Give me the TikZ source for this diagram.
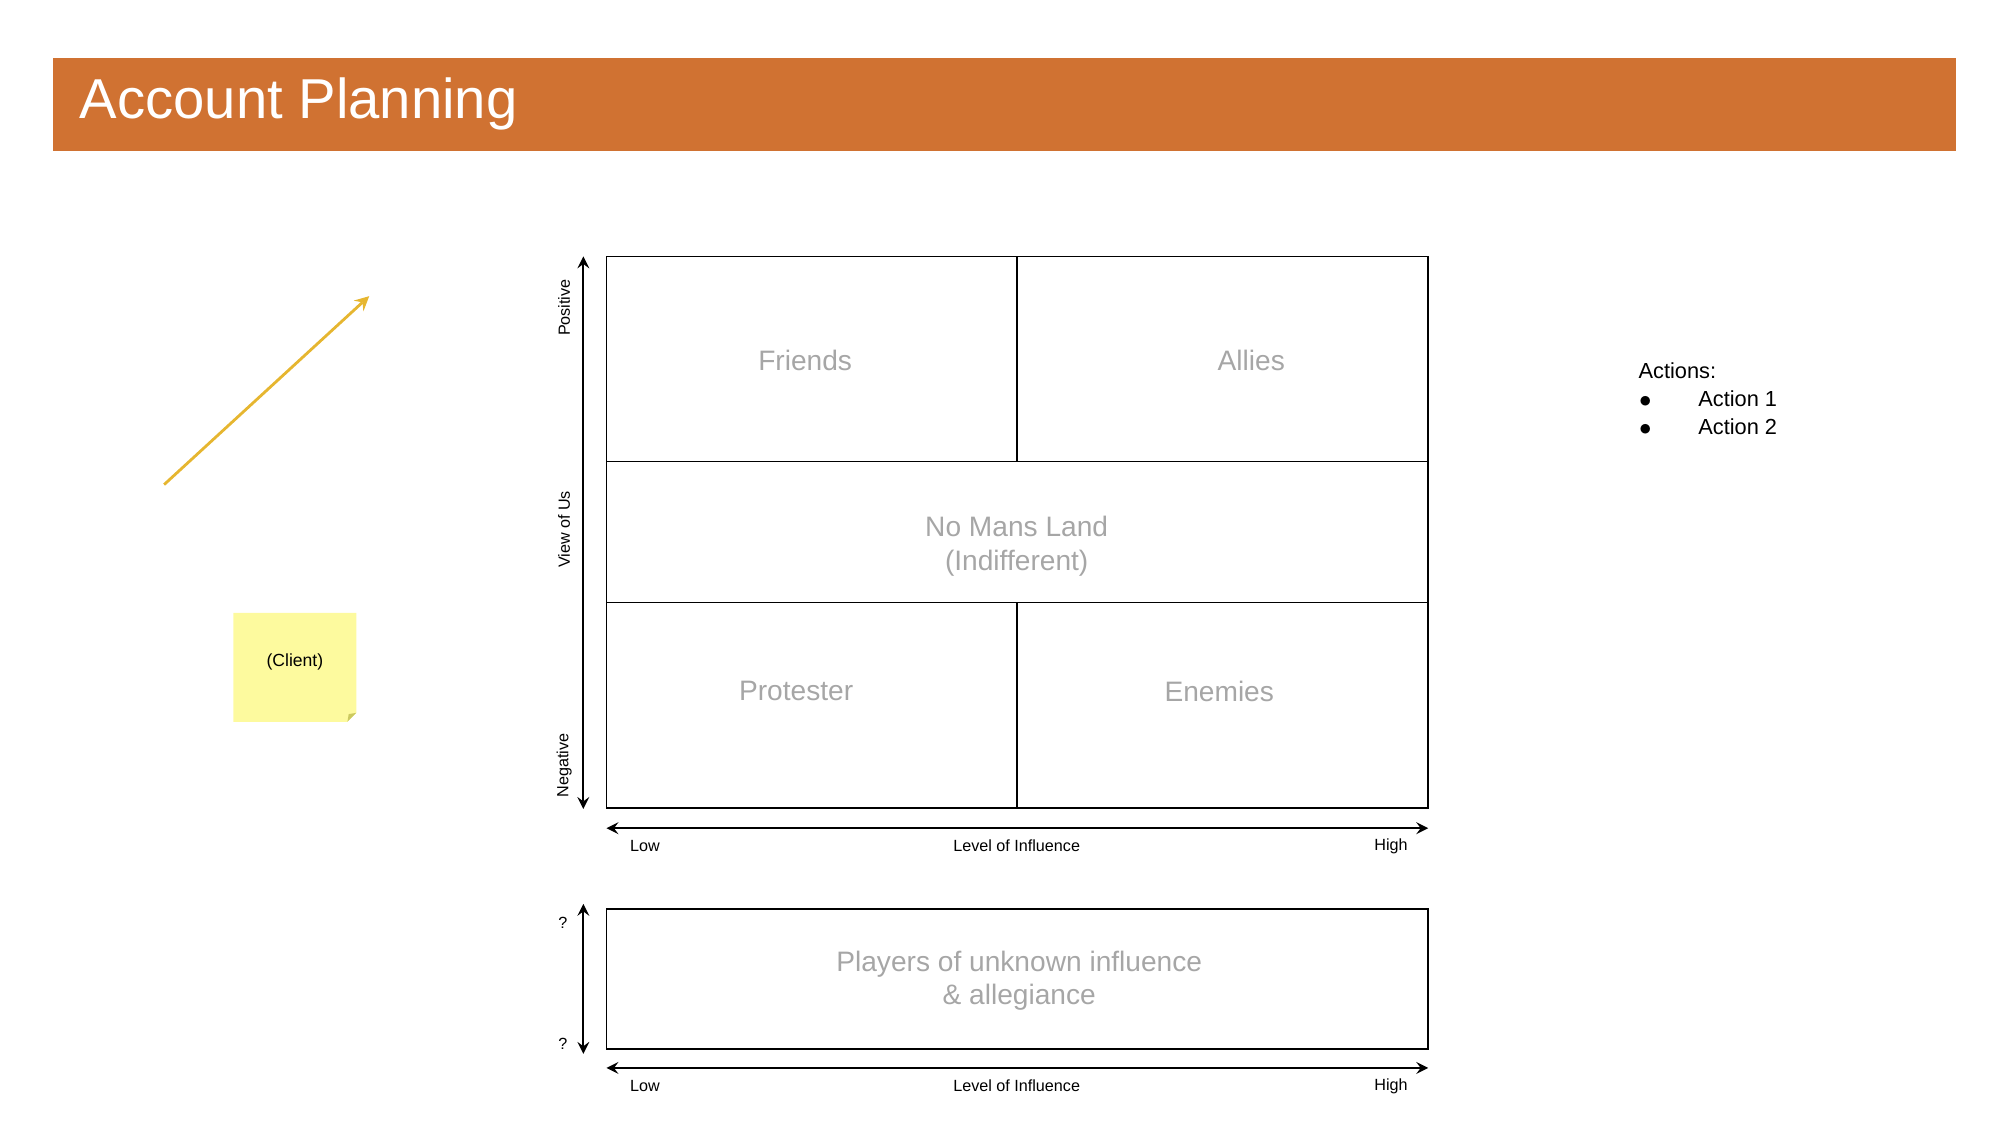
\documentclass[tikz,border=0pt]{standalone}
\usepackage{fontspec}
\setmainfont{Liberation Sans}
\usetikzlibrary{arrows,positioning}
\definecolor{bannerorange}{HTML}{D07232}
\definecolor{arrowgold}{HTML}{E6B630}
\definecolor{notey}{HTML}{FDFA9E}
\definecolor{labelgray}{HTML}{A6A6A6}
\begin{document}
\begin{tikzpicture}[x=0.01282cm, y=-0.01282cm, >=stealth, thick,
    quad/.style={text=labelgray, font=\fontsize{8}{9.6}\selectfont, align=center},
    axis/.style={<->, line width=0.5pt},
    axlab/.style={font=\fontsize{4.6}{5.5}\selectfont, inner sep=0pt},
    box/.style={draw, line width=0.5pt}
    ]
\useasboundingbox (0,0) rectangle (1560,877);
% banner
\fill[bannerorange] (41,45) rectangle (1526,118);
\node[anchor=west, text=white, font=\fontsize{16}{19}\selectfont] (title) at (52,81) {Account Planning};

% main grid
\draw[box] (473,200) rectangle (1114,630);
\draw[box] (473,360) -- (1114,360);
\draw[box] (473,470) -- (1114,470);
\draw[box] (793,200) -- (793,360);
\draw[box] (793,470) -- (793,630);
\node[quad] (friends) at (628,281) {Friends};
\node[quad] (allies) at (976,281) {Allies};
\node[quad] (nomans) at (793,426) {No Mans Land\\(Indifferent)};
\node[quad] (protest) at (621,539) {Protester};
\node[quad] (enemies) at (951,539) {Enemies};

% axes
\coordinate (ytop) at (455,200);
\coordinate (ybot) at (455,631);
\draw[axis] (ybot) -- (ytop);
\node[axlab, rotate=90] (pos) at (440,240) {Positive};
\node[axlab, rotate=90] (view) at (440,413) {View of Us};
\node[axlab, rotate=90] (neg) at (440,597) {Negative};
\coordinate (xl) at (473,646);
\coordinate (xr) at (1114,646);
\draw[axis] (xl) -- (xr);
\node[axlab] (low) at (503,660) {Low};
\node[axlab] (lvl) at (793,660) {Level of Influence};
\node[axlab] (high) at (1085,660) {High};

% unknown players
\draw[box] (473,709) rectangle (1114,818);
\node[quad] (unknown) at (795,765) {Players of unknown influence\\\& allegiance};
\coordinate (qtop) at (455,705);
\coordinate (qbot) at (455,822);
\draw[axis] (qbot) -- (qtop);
\node[axlab] (q1) at (439,720) {?};
\node[axlab] (q2) at (439,814) {?};
\coordinate (xl2) at (473,833);
\coordinate (xr2) at (1114,833);
\draw[axis] (xl2) -- (xr2);
\node[axlab] (low2) at (503,847) {Low};
\node[axlab] (lvl2) at (793,847) {Level of Influence};
\node[axlab] (high2) at (1085,847) {High};

% client note
\coordinate (astart) at (128,378);
\coordinate (aend) at (288,231);
\draw[->, arrowgold, line width=0.8pt] (astart) -- (aend);
\fill[notey] (182,478) -- (278,478) -- (278,556) -- (271,563) -- (182,563) -- cycle;
\fill[notey!60!olive] (278,556) -- (271,563) -- (272,557) -- cycle;
\node[font=\fontsize{5}{6}\selectfont] (client) at (230,516) {(Client)};

% actions
\node[anchor=north west, font=\fontsize{6.2}{7.5}\selectfont, inner sep=0pt, align=left] (actions) at (1277,282)
  {Actions:\\[0.5pt]\makebox[17pt][l]{$\bullet$}Action 1\\[0.5pt]\makebox[17pt][l]{$\bullet$}Action 2};
\end{tikzpicture}
\end{document}
